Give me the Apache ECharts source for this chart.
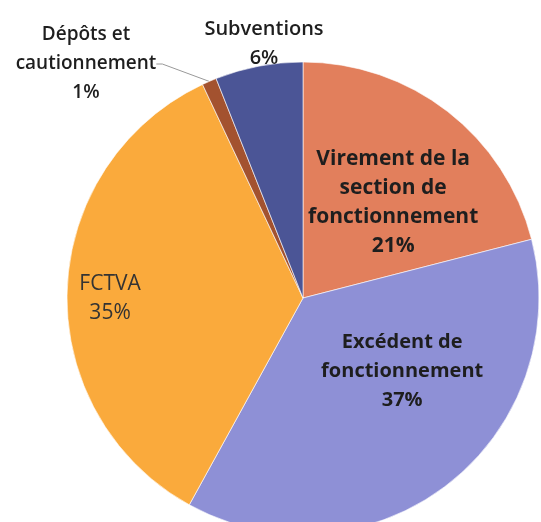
<!DOCTYPE html>
<html>
<head>
<meta charset="utf-8">
<script src="https://cdn.jsdelivr.net/npm/echarts@6/dist/echarts.min.js"></script>
<style>
  html, body { margin: 0; padding: 0; background: #fff; }
  #chart { width: 541px; height: 522px; }
</style>
</head>
<body>
<div id="chart"></div>
<script>
// catégories, parts (%) et couleurs
var names = ['Virement de la\nsection de\nfonctionnement', 'Excédent de\nfonctionnement', 'FCTVA', 'Dépôts et\ncautionnement', 'Subventions']
var values = [21, 37, 35, 1, 6]
var colors = ['#E27F5C', '#8E90D6', '#FAAA3C', '#A3522F', '#4B5596']

var myChart = echarts.init(document.getElementById('chart'))

var data = names.map(function (n, i) {
  return {name: n, value: values[i], itemStyle: {color: colors[i]}}
})
data[0].label = {fontSize: 21}
// petit libellé FCTVA : pas gras
data[2].label = {fontWeight: 'normal', color: '#333', fontSize: 21}
// Dépôts : trait de rappel
data[3].labelLine = {show: true, length: 8, length2: 6, lineStyle: {color: '#999', width: 1}}
data[3].label = {position: 'outside', fontSize: 19, fontWeight: 600, overflow: 'none'}
data[4].label = {position: 'outside', fontSize: 20, fontWeight: 600, overflow: 'none'}

myChart.setOption({
  animation: false,
  series: [{
    type: 'pie',
    center: [303, 298],
    radius: 236,
    startAngle: 90,
    clockwise: true,
    data: data,
    itemStyle: {borderColor: 'rgba(255,255,255,0.6)', borderWidth: 1},
    labelLine: {show: false},
    label: {
      show: true,
      position: 'inside',
      formatter: '{b}\n{d}%',
      fontFamily: 'Open Sans',
      fontSize: 20,
      fontWeight: 'bold',
      lineHeight: 29,
      color: '#1e1e1e',
      align: 'center'
    },
    labelLayout: function (p) {
      // décalages pour coller aux positions du graphique d'origine
      var moves = [
        {dx: 16, dy: 0},
        {dx: 25, dy: -22},
        {dx: -72, dy: 4},
        {x: 86, y: 64, align: 'center', verticalAlign: 'middle'},
        {x: 264, y: 44, align: 'center', verticalAlign: 'middle'}
      ]
      return moves[p.dataIndex]
    }
  }]
})
</script>
</body>
</html>
